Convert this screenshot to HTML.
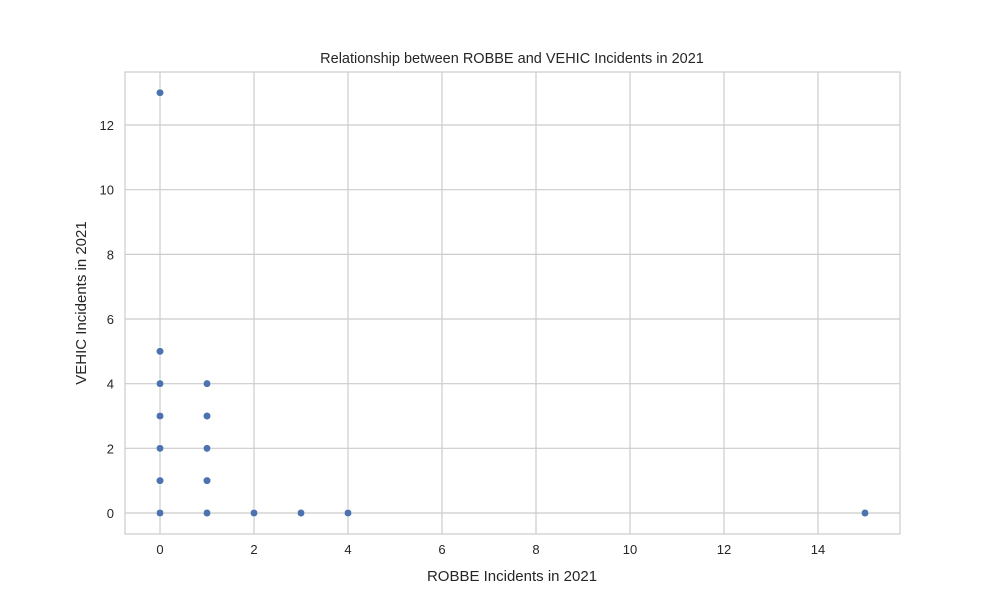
<!DOCTYPE html>
<html><head><meta charset="utf-8"><style>
body{margin:0;background:#fff;}
svg text{font-family:"Liberation Sans",Arial,sans-serif;fill:#262626;}
</style></head><body>
<svg id="chart" width="1000" height="600">
<rect x="0" y="0" width="1000" height="600" fill="#fff"/>
<g id="grid"></g>
<rect x="125" y="72" width="775" height="462" fill="none" stroke="#cccccc" stroke-width="1.2"/>
<g id="ticks"></g>
<g id="points"></g>
<text x="512" y="63" text-anchor="middle" font-size="14.5">Relationship between ROBBE and VEHIC Incidents in 2021</text>
<text x="512" y="581" text-anchor="middle" font-size="15">ROBBE Incidents in 2021</text>
<text x="0" y="0" transform="translate(86,303) rotate(-90)" text-anchor="middle" font-size="15">VEHIC Incidents in 2021</text>
</svg>
<script>
const robbe=[0,0,0,0,0,0,0,1,1,1,1,1,2,3,4,15];
const vehic=[13,5,4,3,2,1,0,4,3,2,1,0,0,0,0,0];
const xTicks=[0,2,4,6,8,10,12,14];
const yTicks=[0,2,4,6,8,10,12];
const L=125,R=900,T=72,B=534;
const xMin=-0.745,xMax=15.745,yMin=-0.65,yMax=13.64;
const xs=v=>L+(v-xMin)/(xMax-xMin)*(R-L);
const ys=v=>B-(v-yMin)/(yMax-yMin)*(B-T);
const ns="http://www.w3.org/2000/svg";
const grid=document.getElementById('grid'),ticks=document.getElementById('ticks'),pts=document.getElementById('points');
function mk(t,a){const e=document.createElementNS(ns,t);for(const k in a)e.setAttribute(k,a[k]);return e;}
xTicks.forEach(v=>{
 const l=mk('line',{x1:xs(v),x2:xs(v),y1:T,y2:B,stroke:'#cccccc','stroke-width':1.2});
 
 
 grid.appendChild(l);
 const t=mk('text',{x:xs(v),y:B+20,'text-anchor':'middle','font-size':13});
 
 
 t.textContent=v;ticks.appendChild(t);
});
yTicks.forEach(v=>{
 const l=mk('line',{x1:L,x2:R,y1:ys(v),y2:ys(v),stroke:'#cccccc','stroke-width':1.2});
 
 
 grid.appendChild(l);
 const t=mk('text',{x:L-11,y:ys(v)+5,'text-anchor':'end','font-size':13});
 
 
 t.textContent=v;ticks.appendChild(t);
});
robbe.forEach((r,i)=>{
 const c=mk('circle',{cx:xs(r),cy:ys(vehic[i]),r:3.8,fill:'#4c72b0',stroke:'#fff','stroke-width':0.6});
 
 
 pts.appendChild(c);
});
</script>
</body></html>
